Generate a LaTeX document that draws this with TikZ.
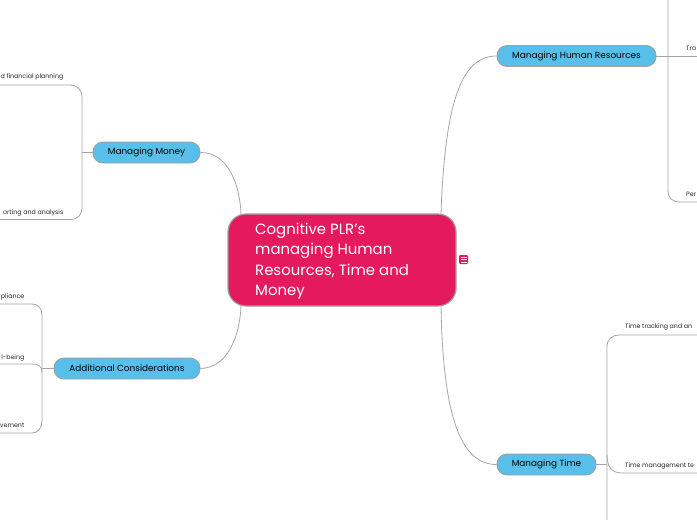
\documentclass[tikz,border=0pt]{standalone}
\usepackage{fontspec}
\setmainfont{Poppins}
\definecolor{central}{RGB}{228,25,94}
\definecolor{branch}{RGB}{88,191,235}
\definecolor{edge}{RGB}{165,165,165}
\definecolor{rim}{RGB}{160,160,160}
\begin{document}
\begin{tikzpicture}[x=1pt,y=-1pt,
  conn/.style={draw=edge,line width=0.8pt},
  branchbox/.style={draw=rim,line width=0.9pt,fill=branch,rounded corners=10pt,
    minimum height=21pt,inner sep=0pt,font=\fontsize{8.9}{10}\selectfont,text=black},
  leaf/.style={inner sep=0pt,font=\fontsize{6.3}{7}\selectfont,text=black!85}]
\useasboundingbox (0,0) rectangle (697,520);
\clip (0,0) rectangle (697,520);
% central
\node[draw=rim,line width=1.2pt,fill=central,rounded corners=18pt,
  minimum width=228pt,minimum height=92pt,inner sep=0pt] (c) at (342,260) {};
\node[anchor=north west,align=left,inner sep=0pt,text=white,
  font=\fontsize{14.9}{20.4}\selectfont] (ct) at (255,223)
  {Cognitive PLR's\\managing Human\\Resources, Time and\\Money};
% icon
\node[fill=central,rounded corners=1.2pt,minimum width=9pt,minimum height=9pt,inner sep=0pt] (ic) at (463.5,259.5) {};
\draw[white,line width=0.7pt] (460.5,257) -- (466.5,257) (460.5,259.5) -- (466.5,259.5) (460.5,262) -- (466.5,262);
% branches
\node[branchbox,minimum width=107pt] (mm) at (146.5,152.5) {Managing Money};
\node[branchbox,minimum width=146pt] (ac) at (127,368.5) {Additional Considerations};
\node[branchbox,minimum width=159pt] (hr) at (576.5,56) {Managing Human Resources};
\node[branchbox,minimum width=99pt] (mt) at (546.5,464.5) {Managing Time};
% central connectors
\coordinate (cmm) at (241,214);
\coordinate (cac) at (241,306);
\coordinate (chr) at (441,214);
\coordinate (cmt) at (441,306);
\draw[conn] (mm.east) .. controls (228,152) and (240,185) .. (cmm);
\draw[conn] (ac.east) .. controls (228,368) and (240,335) .. (cac);
\draw[conn] (hr.west) .. controls (462,56) and (445,100) .. (chr);
\draw[conn] (mt.west) .. controls (462,464.5) and (443,420) .. (cmt);
% Managing Money subtree
\coordinate (mmj) at (82,152.5);
\draw[conn] (mm.west) -- (mmj);
\draw[conn] (-5,85) -- (70,85) .. controls (78,85) and (82,90) .. (82,98) -- (82,207)
  .. controls (82,215) and (78,219.5) .. (70,219.5) -- (-5,219.5);
\node[leaf,anchor=east] (m1) at (63.5,77) {d financial planning};
\node[leaf,anchor=east] (m2) at (63.5,212.5) {orting and analysis};
% Additional subtree
\coordinate (acj) at (42,368.5);
\draw[conn] (ac.west) -- (acj);
\draw[conn] (-5,304) -- (32,304) .. controls (38,304) and (42,308) .. (42,315) -- (42,421)
  .. controls (42,428) and (38,433) .. (32,433) -- (-5,433);
\draw[conn] (-5,364) -- (32,364) .. controls (38,364) and (42,366) .. (42,372);
\node[leaf,anchor=east] (a1) at (24.5,297) {pliance};
\node[leaf,anchor=east] (a2) at (24.5,357.5) {l-being};
\node[leaf,anchor=east] (a3) at (24.5,425.5) {vement};
% HR subtree
\draw[conn] (hr.east) -- (702,56);
\draw[conn] (668,-5) -- (668,190) .. controls (668,198) and (672,202) .. (680,202) -- (702,202);
\node[leaf,anchor=west] (h1) at (686,48) {Tra};
\node[leaf,anchor=west] (h2) at (686,194) {Per};
% Time subtree
\coordinate (mtj) at (607,464.5);
\draw[conn] (mt.east) -- (mtj);
\draw[conn] (607,525) -- (607,347) .. controls (607,339) and (612,335) .. (620,335) -- (702,335);
\draw[conn] (607,455) .. controls (607,467) and (612,473) .. (622,473) -- (702,473);
\node[leaf,anchor=west] (t1) at (625,327) {Time tracking and an};
\node[leaf,anchor=west] (t2) at (625,465.5) {Time management te};
\end{tikzpicture}
\end{document}
